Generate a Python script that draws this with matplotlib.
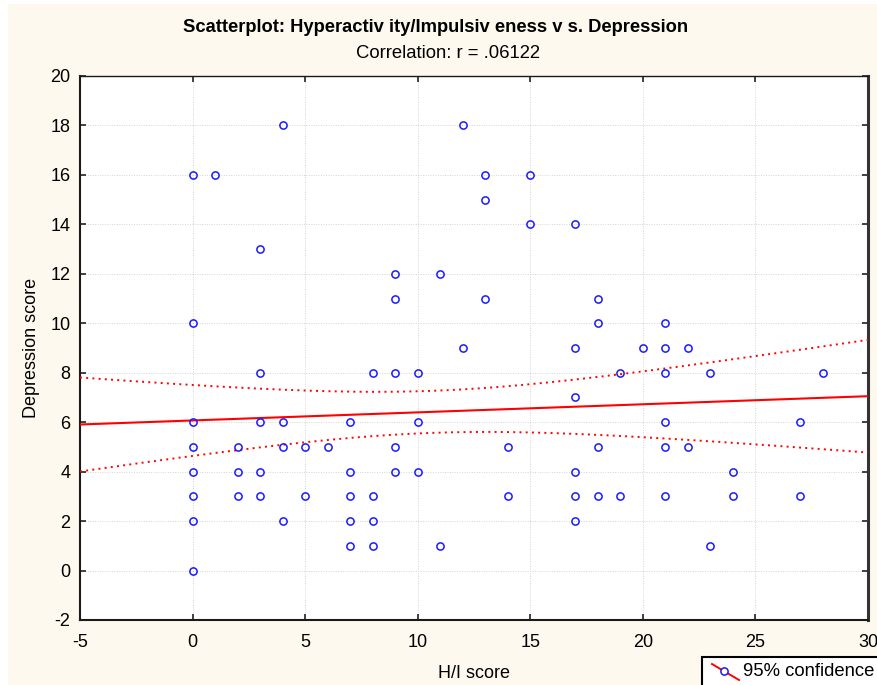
import numpy as np
import matplotlib
matplotlib.use("Agg")
import matplotlib.pyplot as plt
from matplotlib.patches import Rectangle
from matplotlib.lines import Line2D

# ---- data ----
hi_score = [0, 0, 0, 0, 0, 0, 0, 0,
            1,
            2, 2, 2,
            3, 3, 3, 3, 3,
            4, 4, 4, 4,
            5, 5,
            6,
            7, 7, 7, 7, 7,
            8, 8, 8, 8,
            9, 9, 9, 9, 9,
            10, 10, 10,
            11, 11,
            12, 12,
            13, 13, 13,
            14, 14,
            15, 15,
            17, 17, 17, 17, 17, 17,
            18, 18, 18, 18,
            19, 19,
            20,
            21, 21, 21, 21, 21, 21,
            22, 22,
            23, 23,
            24, 24,
            27, 27,
            28]
depression = [16, 10, 6, 5, 4, 3, 2, 0,
              16,
              5, 4, 3,
              13, 8, 6, 4, 3,
              18, 6, 5, 2,
              5, 3,
              5,
              6, 4, 3, 2, 1,
              8, 3, 2, 1,
              12, 11, 8, 5, 4,
              8, 6, 4,
              12, 1,
              18, 9,
              16, 15, 11,
              5, 3,
              16, 14,
              14, 9, 7, 4, 3, 2,
              11, 10, 5, 3,
              8, 3,
              9,
              10, 9, 8, 6, 5, 3,
              9, 5,
              8, 1,
              4, 3,
              6, 3,
              8]

# regression line and confidence band parameters
reg_intercept = 6.07
reg_slope = 0.0327
band_center_x = 10.6
band_halfwidth_at_center = 0.85
band_spread = 0.109

x_ticks = [-5, 0, 5, 10, 15, 20, 25, 30]
y_ticks = [-2, 0, 2, 4, 6, 8, 10, 12, 14, 16, 18, 20]

title_text = "Scatterplot: Hyperactiv ity/Impulsiv eness v s. Depression"
subtitle_text = "Correlation: r = .06122"
x_label = "H/I score"
y_label = "Depression score"
legend_text = "95% confidence"

# ---- figure ----
plt.rcParams['font.family'] = ['Liberation Sans', 'DejaVu Sans']
plt.rcParams['axes.unicode_minus'] = False
W, H = 877, 685
fig = plt.figure(figsize=(W / 100, H / 100), dpi=100)
fig.patch.set_facecolor('#fdf9ef')
# thin white outer margins
fig.patches.append(Rectangle((0, 0), 8 / W, 1, transform=fig.transFigure,
                             facecolor='white', edgecolor='none', zorder=0))
fig.patches.append(Rectangle((0, 1 - 4 / H), 1, 4 / H, transform=fig.transFigure,
                             facecolor='white', edgecolor='none', zorder=0))

ax = fig.add_axes([80 / W, 1 - 620 / H, (868 - 80) / W, (620 - 76) / H])
ax.set_facecolor('white')

xx = np.linspace(-5, 30, 200)
yhat = reg_intercept + reg_slope * xx
half = np.sqrt(band_halfwidth_at_center ** 2 + (band_spread * (xx - band_center_x)) ** 2)
ax.plot(xx, yhat, color='#ff0000', lw=1.5, zorder=3)
ax.plot(xx, yhat + half, color='#ff0000', lw=1.4, ls=(0, (1, 2.2)), zorder=3)
ax.plot(xx, yhat - half, color='#ff0000', lw=1.4, ls=(0, (1, 2.2)), zorder=3)

ax.plot(hi_score, depression, ls='none', marker='o', ms=5.2, mfc='none',
        mec='#1a1aff', mew=1.1, zorder=4)

ax.set_xlim(-5, 30)
ax.set_ylim(-2, 20)
ax.set_xticks(x_ticks)
ax.set_yticks(y_ticks)
ax.grid(True, color='#d4d4d4', ls=(0, (1, 1.5)), lw=0.7)
ax.set_axisbelow(True)
ax.tick_params(direction='in', length=4, width=1.2, top=True, right=True,
               labelsize=13, colors='#222222', labelcolor='black')
ax.tick_params(axis='x', pad=10)
ax.tick_params(axis='y', pad=7)
for side, lw in [('left', 1.5), ('bottom', 1.5), ('top', 1.0), ('right', 2.2)]:
    ax.spines[side].set_linewidth(lw)
    ax.spines[side].set_color('#1a1a1a')
ax.spines['right'].set_color('#333333')

ax.set_xlabel(x_label, fontsize=13, labelpad=10)
ax.set_ylabel(y_label, fontsize=13, labelpad=7)

fig.text(436 / W, 1 - 28 / H, title_text, ha='center', va='center',
         fontsize=13.2, fontweight='bold')
fig.text(448 / W, 1 - 53 / H, subtitle_text, ha='center', va='center', fontsize=13.3)

# legend box (clipped by figure edge, as in the reference)
fig.patches.append(Rectangle((702 / W, 1 - 700 / H), 200 / W, 43 / H,
                             transform=fig.transFigure, facecolor='white',
                             edgecolor='black', lw=1.5, zorder=5))
fig.add_artist(Line2D([712 / W, 739 / W], [1 - 664 / H, 1 - 680 / H],
                      transform=fig.transFigure, color='#ff0000', lw=1.4, zorder=6))
fig.add_artist(Line2D([724 / W], [1 - 671 / H], transform=fig.transFigure,
                      ls='none', marker='o', ms=5.2, mfc='white', mec='#1a1aff',
                      mew=1.1, zorder=7))
fig.text(743 / W, 1 - 672 / H, legend_text, ha='left', va='center', fontsize=13.3, zorder=8)

fig.savefig('out.png', dpi=100, facecolor=fig.get_facecolor())
